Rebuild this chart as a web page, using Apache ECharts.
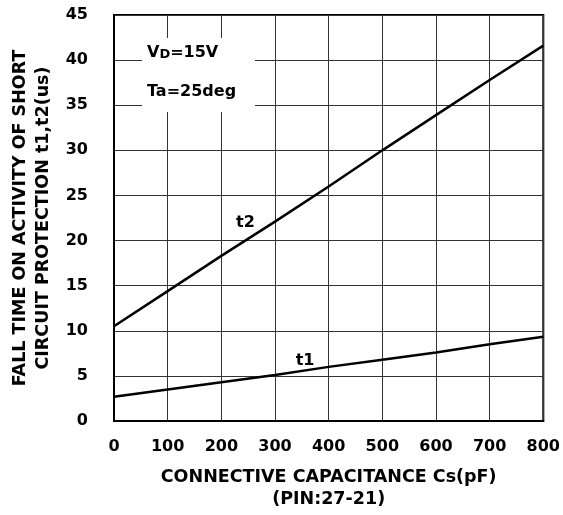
<!DOCTYPE html>
<html>
<head>
<meta charset="utf-8">
<script src="https://cdn.jsdelivr.net/npm/echarts@6/dist/echarts.min.js"></script>
<style>html,body{margin:0;padding:0;background:#fff}#c{width:563px;height:515px}</style>
</head>
<body>
<div id="c"></div>
<script>
const capacitance = [0, 100, 200, 300, 400, 500, 600, 700, 800];
const t1Values = [2.7, 3.5, 4.3, 5.1, 6.0, 6.8, 7.6, 8.5, 9.35];
const t2Values = [10.5, 14.4, 18.3, 22.1, 26.0, 30.0, 33.9, 37.8, 41.6];
const xTicks = [0, 100, 200, 300, 400, 500, 600, 700, 800];
const yTicks = [0, 5, 10, 15, 20, 25, 30, 35, 40, 45];

const FONT = 'DejaVu Sans';
const chart = echarts.init(document.getElementById('c'));
const pairs = (ys) => capacitance.map((x, i) => [x, ys[i]]);

chart.setOption({
  animation: false,
  backgroundColor: '#fff',
  grid: { left: 114, right: 17, top: 15, bottom: 88, show: true, borderColor: '#000', borderWidth: 2, backgroundColor: 'transparent' },
  xAxis: {
    type: 'value', min: xTicks[0], max: xTicks[xTicks.length - 1], interval: 100,
    name: 'CONNECTIVE CAPACITANCE Cs(pF)\n(PIN:27-21)',
    nameLocation: 'middle', nameGap: 45,
    nameTextStyle: { fontFamily: FONT, fontWeight: 'bold', fontSize: 17.5, color: '#000', lineHeight: 22 },
    axisLine: { show: true, lineStyle: { color: '#000', width: 2 } },
    axisTick: { show: false },
    axisLabel: { margin: 18, fontFamily: FONT, fontWeight: 'bold', fontSize: 16, color: '#000' },
    splitLine: { show: true, lineStyle: { color: '#333', width: 1 } }
  },
  yAxis: {
    type: 'value', min: yTicks[0], max: yTicks[yTicks.length - 1], interval: 5,
    name: 'FALL TIME ON ACTIVITY OF SHORT\nCIRCUIT PROTECTION t1,t2(us)',
    nameLocation: 'middle', nameGap: 55, nameRotate: 90,
    nameTextStyle: { fontFamily: FONT, fontWeight: 'bold', fontSize: 17.5, color: '#000', lineHeight: 23 },
    axisLine: { show: true, lineStyle: { color: '#000', width: 2 } },
    axisTick: { show: false },
    axisLabel: { margin: 26, fontFamily: FONT, fontWeight: 'bold', fontSize: 16, color: '#000' },
    splitLine: { show: true, lineStyle: { color: '#333', width: 1 } }
  },
  series: [
    {
      name: 't2', type: 'line', data: pairs(t2Values), showSymbol: false, symbol: 'none',
      lineStyle: { color: '#000', width: 2.5 }, z: 3,
      markPoint: {
        symbol: 'circle', symbolSize: 0, silent: true,
        label: { show: true, position: 'inside', formatter: 't2', fontFamily: FONT, fontWeight: 'bold', fontSize: 16, color: '#000' },
        data: [{ coord: [245, 21.95] }]
      }
    },
    {
      name: 't1', type: 'line', data: pairs(t1Values), showSymbol: false, symbol: 'none',
      lineStyle: { color: '#000', width: 2.5 }, z: 3,
      markPoint: {
        symbol: 'circle', symbolSize: 0, silent: true,
        label: { show: true, position: 'inside', formatter: 't1', fontFamily: FONT, fontWeight: 'bold', fontSize: 16, color: '#000' },
        data: [{ coord: [356, 6.65] }]
      }
    }
  ],
  graphic: [
    { type: 'rect', shape: { x: 142, y: 38, width: 113, height: 74 }, style: { fill: '#fff' }, z: 10 },
    {
      type: 'text', x: 147, y: 53, z: 11,
      style: {
        text: '{n|V}{s|D}{n|=15V}', verticalAlign: 'middle',
        rich: {
          n: { fontFamily: FONT, fontWeight: 'bold', fontSize: 16, fill: '#000' },
          s: { fontFamily: FONT, fontWeight: 'bold', fontSize: 13, fill: '#000', padding: [4, 0, 0, 0] }
        }
      }
    },
    {
      type: 'text', x: 147, y: 92, z: 11,
      style: { text: 'Ta=25deg', verticalAlign: 'middle', fontFamily: FONT, fontWeight: 'bold', fontSize: 16, fill: '#000' }
    }
  ]
});
</script>
</body>
</html>
